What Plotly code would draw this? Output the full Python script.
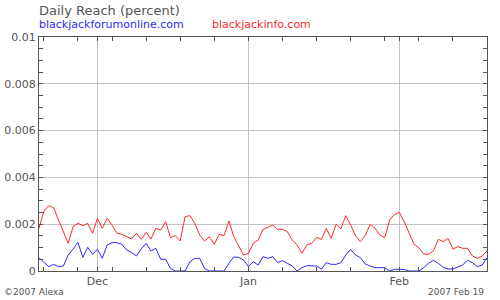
import plotly.graph_objects as go
import pandas as pd

start_date = "2006-11-19"
end_date = "2007-02-19"
dates = pd.date_range(start_date, end_date, freq="D")

# daily reach (percent)
blackjackinfo = [
    1.823, 2.564, 2.792, 2.707, 2.179, 1.681, 1.182, 1.895, 2.037, 1.937,
    2.037, 1.610, 2.251, 1.823, 2.251, 1.966, 1.610, 1.567, 1.467, 1.368,
    1.610, 1.353, 1.652, 1.368, 1.823, 1.752, 2.108, 1.425, 1.510, 1.282,
    2.322, 2.365, 2.037, 1.538, 1.282, 1.467, 1.140, 1.567, 1.510, 2.137,
    1.467, 1.040, 0.684, 0.755, 1.182, 1.325, 1.781, 1.866, 1.966, 1.781,
    1.781, 1.681, 1.325, 1.111, 0.755, 1.111, 1.182, 1.439, 1.353, 1.823,
    1.396, 1.994, 1.800, 2.365, 1.966, 1.496, 1.254, 1.510, 1.994, 1.823,
    1.538, 1.425, 2.179, 2.422, 2.507, 2.108, 1.610, 1.140, 0.997, 0.726,
    0.712, 0.855, 1.353, 1.254, 1.396, 0.940, 1.040, 0.969, 0.969, 0.641,
    0.541, 0.641, 0.855,
]
blackjackforumonline = [
    0.570, 0.370, 0.185, 0.285, 0.185, 0.214, 0.684, 0.940, 1.225, 0.584,
    1.011, 0.712, 0.926, 0.541, 1.111, 1.211, 1.211, 1.140, 0.897, 0.798,
    0.641, 0.940, 1.182, 0.855, 0.969, 0.499, 0.499, 0.114, 0.0, 0.0,
    0.0, 0.399, 0.541, 0.541, 0.114, 0.0, 0.0, 0.0, 0.0, 0.328,
    0.598, 0.584, 0.470, 0.185, 0.399, 0.256, 0.613, 0.541, 0.613, 0.356,
    0.442, 0.328, 0.214, 0.0, 0.142, 0.228, 0.228, 0.214, 0.085, 0.356,
    0.285, 0.285, 0.356, 0.684, 0.926, 0.684, 0.570, 0.299, 0.214, 0.142,
    0.142, 0.142, 0.0, 0.071, 0.071, 0.071, 0.0, 0.0, 0.0, 0.142,
    0.328, 0.456, 0.328, 0.157, 0.085, 0.085, 0.185, 0.256, 0.456, 0.356,
    0.185, 0.256, 0.570,
]
blackjackinfo = [v / 1000 for v in blackjackinfo]
blackjackforumonline = [v / 1000 for v in blackjackforumonline]

y_tickvals = [0, 0.002, 0.004, 0.006, 0.008, 0.01]
y_ticktext = ["0", "0.002", "0.004", "0.006", "0.008", "0.01"]

title_text = "Daily Reach (percent)"
series_names = ["blackjackforumonline.com", "blackjackinfo.com"]
series_colors = ["#2a2aff", "#ff2a2a"]
footer_left = "©2007 Alexa"
footer_right = "2007 Feb 19"

FONT = "DejaVu Sans"
TXT = "#555555"
AX = "#555555"
GRID = "#c4c4c4"

fig = go.Figure()
fig.add_trace(go.Scatter(x=dates, y=blackjackinfo, mode="lines",
                         line=dict(color=series_colors[1], width=1),
                         name=series_names[1], showlegend=False))
fig.add_trace(go.Scatter(x=dates, y=blackjackforumonline, mode="lines",
                         line=dict(color=series_colors[0], width=1),
                         name=series_names[0], showlegend=False))

fig.update_layout(
    width=500, height=300,
    margin=dict(l=39, r=13, t=37, b=29),
    paper_bgcolor="white", plot_bgcolor="white",
    font=dict(family=FONT, size=11, color=TXT),
    showlegend=False,
)
fig.update_xaxes(
    automargin=False,
    range=[start_date, end_date],
    type="date",
    tickformat="%b",
    dtick="M1", tick0="2006-12-01",
    ticks="inside", ticklen=4, tickcolor=AX, tickwidth=1,
    showgrid=True, gridcolor=GRID, gridwidth=1,
    showline=True, linecolor=AX, linewidth=1, mirror="ticks",
    minor=dict(dtick=7 * 86400000, tick0="2006-11-20", ticks="inside",
               ticklen=4, tickcolor=AX, showgrid=False),
    tickfont=dict(family=FONT, size=11, color=TXT),
    zeroline=False,
)
fig.update_yaxes(
    automargin=False,
    range=[0, 0.01],
    tickvals=y_tickvals, ticktext=y_ticktext,
    ticks="inside", ticklen=4, tickcolor=AX,
    showgrid=True, gridcolor=GRID, gridwidth=1,
    showline=True, linecolor=AX, linewidth=1, mirror="ticks",
    minor=dict(dtick=0.0005, ticks="inside", ticklen=4, tickcolor=AX, showgrid=False),
    tickfont=dict(family=FONT, size=11, color=TXT),
    zeroline=False,
)

ann = [
    dict(text=title_text, x=-0.004, y=1.115, font=dict(size=13, color=TXT)),
    dict(text=series_names[0], x=-0.004, y=1.055, font=dict(size=11, color=series_colors[0])),
    dict(text=series_names[1], x=0.382, y=1.055, font=dict(size=11, color=series_colors[1])),
    dict(text=footer_left, x=-0.083, y=-0.09, font=dict(size=9, color=TXT)),
]
for a in ann:
    fig.add_annotation(xref="paper", yref="paper", xanchor="left", yanchor="middle",
                       showarrow=False, **a)
fig.add_annotation(xref="paper", yref="paper", xanchor="right", yanchor="middle",
                   showarrow=False, text=footer_right, x=0.997, y=-0.09,
                   font=dict(size=9, color=TXT))

fig.write_html("out.html")
